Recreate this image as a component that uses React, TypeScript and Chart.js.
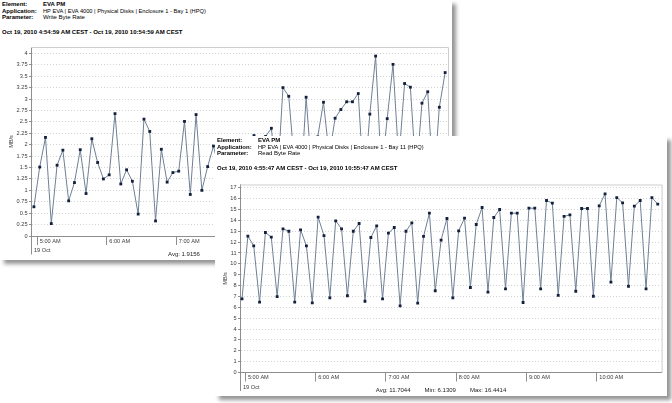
import React, { useEffect, useRef } from "react";
import { Chart, registerables } from "chart.js";

Chart.register(...registerables);

// Write Byte Rate, Bay 1 — one sample every 5 minutes (MB/s)
const WRITE_RATE = [
  0.64, 1.51, 2.16, 0.2718, 1.55, 1.88, 0.77, 1.17, 1.89, 0.93, 2.13, 1.61,
  1.25, 1.34, 2.68, 1.14, 1.45, 1.2, 0.48, 2.56, 2.29, 0.33, 1.9, 1.18,
  1.39, 1.42, 2.51, 0.91, 2.66, 1.0, 1.52, 1.97, 1.45, 0.95, 1.7, 1.2,
  1.85, 0.8, 2.2, 1.6, 2.18, 2.36, 1.1, 3.25, 3.06, 1.55, 0.9, 3.04,
  1.35, 2.17, 2.93, 1.75, 2.58, 2.77, 2.94, 2.94, 3.12, 1.05, 2.67, 3.9412,
  1.4, 2.57, 3.76, 1.65, 3.34, 3.26, 1.3, 2.91, 3.16, 1.05, 2.82, 3.58,
];

// Read Byte Rate, Bay 11 — one sample every 5 minutes (MB/s)
const READ_RATE = [
  6.78, 12.55, 11.66, 6.47, 12.88, 12.45, 6.99, 13.22, 13.0, 6.47, 13.13, 11.66,
  6.41, 14.29, 12.6, 6.87, 13.96, 13.22, 7.06, 13.0, 13.71, 6.56, 12.42, 13.5,
  6.78, 12.82, 13.34, 6.1309, 13.0, 13.77, 6.38, 12.52, 14.66, 7.52, 12.18, 14.17,
  6.87, 13.04, 14.2, 7.82, 13.62, 15.18, 7.39, 14.26, 15.0, 7.7, 14.66, 14.66,
  6.44, 15.12, 15.12, 7.7, 15.83, 15.58, 7.09, 14.36, 14.51, 7.48, 15.09, 15.09,
  7.02, 15.34, 16.4414, 8.31, 16.1, 15.61, 7.94, 15.31, 15.83, 7.7, 16.1, 15.49,
];

// Hour ticks on the time axis (minutes since midnight) and their labels
const HOUR_TICKS = [300, 360, 420, 480, 540, 600];
const HOUR_LABELS = ["5:00 AM", "6:00 AM", "7:00 AM", "8:00 AM", "9:00 AM", "10:00 AM"];
const DAY_LABEL = "19 Oct";

const SAMPLE_STEP_MIN = 5;
const WINDOW_MIN = 360;

// Report windows (minutes since midnight) and first sample times
const WRITE_WINDOW_START = 4 * 60 + 54 + 59 / 60;
const READ_WINDOW_START = 4 * 60 + 55 + 47 / 60;
const WRITE_FIRST_SAMPLE = 297.5;
const READ_FIRST_SAMPLE = 297.5;

const WRITE_SUMMARY = ["Avg: 1.9156"];
const READ_SUMMARY = ["Avg: 11.7044", "Min: 6.1309", "Max: 16.4414"];

const FONT = '"Liberation Sans", Arial, sans-serif';
const LINE_COLOR = "#6f7f95";
const POINT_COLOR = "#12203d";
const AXIS_COLOR = "#8e8e8e";
const GRID_COLOR = "#d2d2d2";
const FRAME_COLOR = "#cdcdcd";
const TICK_TEXT = "#3a3a3a";

const PANEL_W = 452;
const PANEL_H = 260;

type Area = { left: number; top: number; right: number; bottom: number };

type PanelProps = {
  left: number;
  top: number;
  element: string;
  application: string;
  parameter: string;
  range: string;
  values: number[];
  firstSample: number;
  windowStart: number;
  yMax: number;
  yStep: number;
  area: Area;
  titlePad: number;
  summary: string[];
  summaryLeft?: number;
};

function ReportPanel(p: PanelProps) {
  const ref = useRef<HTMLCanvasElement | null>(null);

  useEffect(() => {
    const canvas = ref.current;
    if (!canvas) return;

    const timeAxisDecor = {
      id: "timeAxisDecor",
      beforeDatasetsDraw(chart: any) {
        const { ctx, chartArea } = chart;
        ctx.save();
        ctx.strokeStyle = FRAME_COLOR;
        ctx.lineWidth = 1;
        ctx.beginPath();
        ctx.moveTo(chartArea.left, chartArea.top + 0.5);
        ctx.lineTo(chartArea.right + 0.5, chartArea.top + 0.5);
        ctx.lineTo(chartArea.right + 0.5, chartArea.bottom);
        ctx.stroke();
        ctx.restore();
      },
      afterDraw(chart: any) {
        const { ctx, chartArea } = chart;
        const xs = chart.scales.x;
        const b = chartArea.bottom;
        ctx.save();
        ctx.strokeStyle = AXIS_COLOR;
        ctx.lineWidth = 1;
        ctx.beginPath();
        for (const t of xs.ticks) {
          const px = Math.round(xs.getPixelForValue(t.value)) + 0.5;
          ctx.moveTo(px, b);
          ctx.lineTo(px, b + 9);
        }
        const x0 = Math.round(xs.getPixelForValue(xs.min)) + 0.5;
        ctx.moveTo(x0, b);
        ctx.lineTo(x0, b + 18.5);
        ctx.stroke();
        ctx.fillStyle = TICK_TEXT;
        ctx.font = `5.6px ${FONT}`;
        ctx.textBaseline = "middle";
        ctx.textAlign = "left";
        ctx.fillText(DAY_LABEL, x0 + 2.5, b + 14.8);
        ctx.restore();
      },
    };

    const chart = new Chart(canvas, {
      type: "line",
      data: {
        datasets: [
          {
            data: p.values.map((v, i) => ({ x: p.firstSample + i * SAMPLE_STEP_MIN, y: v })),
            borderColor: LINE_COLOR,
            borderWidth: 1,
            tension: 0,
            pointStyle: "rect",
            pointRadius: 2,
            pointBorderWidth: 0,
            pointBackgroundColor: POINT_COLOR,
            pointBorderColor: POINT_COLOR,
          },
        ],
      },
      options: {
        animation: false,
        responsive: false,
        maintainAspectRatio: false,
        events: [],
        layout: {
          padding: { left: 0, top: p.area.top, right: PANEL_W - p.area.right, bottom: 0 },
        },
        plugins: {
          legend: { display: false },
          tooltip: { enabled: false },
          title: { display: false },
        },
        scales: {
          x: {
            type: "linear",
            min: p.windowStart,
            max: p.windowStart + WINDOW_MIN,
            afterBuildTicks: (s: any) => {
              s.ticks = HOUR_TICKS.map((v) => ({ value: v }));
            },
            afterFit: (s: any) => {
              s.height = PANEL_H - p.area.bottom;
            },
            grid: { display: false, drawTicks: false },
            border: { display: true, color: AXIS_COLOR, width: 1 },
            ticks: {
              align: "start",
              labelOffset: 3,
              padding: 2,
              maxRotation: 0,
              autoSkip: false,
              color: TICK_TEXT,
              font: { family: FONT, size: 5.6 },
              callback: (v: any) => HOUR_LABELS[HOUR_TICKS.indexOf(Number(v))] ?? "",
            },
          },
          y: {
            min: 0,
            max: p.yMax,
            afterFit: (s: any) => {
              s.width = p.area.left;
            },
            grid: {
              color: GRID_COLOR,
              lineWidth: 1,
              drawTicks: true,
              tickLength: 2,
              tickColor: AXIS_COLOR,
            },
            border: { display: true, color: AXIS_COLOR, width: 1, dash: [1, 2] },
            ticks: {
              stepSize: p.yStep,
              includeBounds: false,
              padding: 1.5,
              color: TICK_TEXT,
              font: { family: FONT, size: 5.6 },
              callback: (v: any) => String(v),
            },
            title: {
              display: true,
              text: "MB/s",
              color: TICK_TEXT,
              font: { family: FONT, size: 5.6 },
              padding: { top: p.titlePad, bottom: 0 },
            },
          },
        },
      },
      plugins: [timeAxisDecor],
    } as any);

    return () => chart.destroy();
  }, [p]);

  const label: React.CSSProperties = { position: "absolute", left: 2, fontWeight: "bold" };
  const value: React.CSSProperties = { position: "absolute", left: 43 };

  const summaryStyle: React.CSSProperties =
    p.summaryLeft !== undefined
      ? { position: "absolute", left: p.summaryLeft, top: 251, color: "#222" }
      : { position: "absolute", left: 0, top: 251, width: PANEL_W, textAlign: "center", color: "#222" };

  return (
    <div
      style={{
        position: "absolute",
        left: p.left,
        top: p.top,
        width: PANEL_W,
        height: PANEL_H,
        background: "#ffffff",
        boxShadow: "4px 4px 4px rgba(0,0,0,0.42)",
        fontFamily: FONT,
        fontSize: "6px",
        lineHeight: "7px",
        color: "#000",
        whiteSpace: "nowrap",
      }}
    >
      <div style={{ ...label, top: 1 }}>Element:</div>
      <div style={{ ...value, top: 1, fontWeight: "bold" }}>{p.element}</div>
      <div style={{ ...label, top: 7.7 }}>Application:</div>
      <div style={{ ...value, top: 7.7, fontSize: "5.7px" }}>{p.application}</div>
      <div style={{ ...label, top: 14.3 }}>Parameter:</div>
      <div style={{ ...value, top: 14.3 }}>{p.parameter}</div>
      <div style={{ ...label, top: 29 }}>{p.range}</div>
      <canvas
        ref={ref}
        width={PANEL_W}
        height={PANEL_H}
        style={{ position: "absolute", left: 0, top: 0, width: PANEL_W, height: PANEL_H }}
      />
      <div style={summaryStyle}>
        {p.summary.map((s, i) => (
          <span key={i} style={{ marginLeft: i === 0 ? 0 : 14 }}>
            {s}
          </span>
        ))}
      </div>
    </div>
  );
}

const writePanel: PanelProps = {
  left: 0,
  top: 0,
  element: "EVA PM",
  application: "HP EVA | EVA 4000 | Physical Disks | Enclosure 1 - Bay 1 (HPQ)",
  parameter: "Write Byte Rate",
  range: "Oct 19, 2010 4:54:59 AM CEST - Oct 19, 2010 10:54:59 AM CEST",
  values: WRITE_RATE,
  firstSample: WRITE_FIRST_SAMPLE,
  windowStart: WRITE_WINDOW_START,
  yMax: 4.14,
  yStep: 0.25,
  area: { left: 31, top: 47, right: 448.5, bottom: 236 },
  titlePad: 8.5,
  summary: WRITE_SUMMARY,
  summaryLeft: 168,
};

const readPanel: PanelProps = {
  left: 215,
  top: 136,
  element: "EVA PM",
  application: "HP EVA | EVA 4000 | Physical Disks | Enclosure 1 - Bay 11 (HPQ)",
  parameter: "Read Byte Rate",
  range: "Oct 19, 2010 4:55:47 AM CEST - Oct 19, 2010 10:55:47 AM CEST",
  values: READ_RATE,
  firstSample: READ_FIRST_SAMPLE,
  windowStart: READ_WINDOW_START,
  yMax: 17.3,
  yStep: 1,
  area: { left: 25, top: 48.5, right: 446.6, bottom: 236.5 },
  titlePad: 6.7,
  summary: READ_SUMMARY,
};

export default function App() {
  return (
    <div
      style={{
        position: "absolute",
        left: 0,
        top: 0,
        width: 672,
        height: 403,
        background: "#ffffff",
        overflow: "hidden",
      }}
    >
      <ReportPanel {...writePanel} />
      <ReportPanel {...readPanel} />
    </div>
  );
}
